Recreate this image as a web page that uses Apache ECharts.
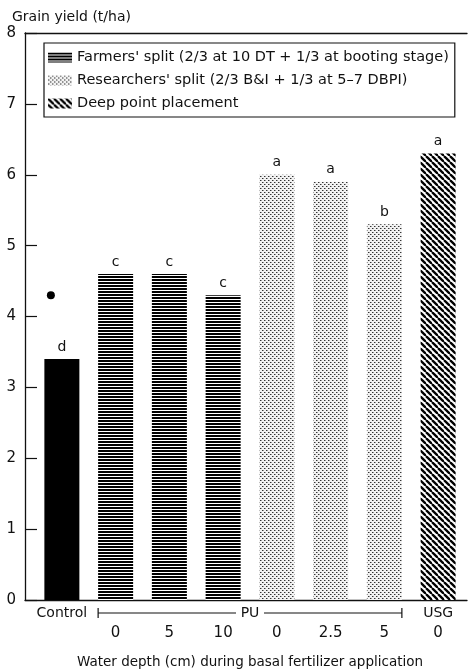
<!DOCTYPE html>
<html><head><meta charset="utf-8">
<script src="https://cdn.jsdelivr.net/npm/echarts@6/dist/echarts.min.js"></script>
<style>html,body{margin:0;padding:0;background:#fff}#c{width:470px;height:670px}</style>
</head><body><div id="c"></div>
<script>
// ---- data ----
const categories = ['Control', '0', '5', '10', '0', '2.5', '5', '0'];
const groupLabels = ['Control', 'PU', 'PU', 'PU', 'PU', 'PU', 'PU', 'USG'];
const controlYield = [3.4, '-', '-', '-', '-', '-', '-', '-'];
const farmersYield = ['-', 4.6, 4.6, 4.3, '-', '-', '-', '-'];
const researchersYield = ['-', '-', '-', '-', 6.0, 5.9, 5.3, '-'];
const deepYield = ['-', '-', '-', '-', '-', '-', '-', 6.3];
const letters = ['d', 'c', 'c', 'c', 'a', 'a', 'b', 'a'];
const controlDot = [[0, 4.3]];
const seriesNames = [
  "Farmers' split (2/3 at 10 DT + 1/3 at booting stage)",
  "Researchers' split (2/3 B&I + 1/3 at 5\u20137 DBPI)",
  "Deep point placement"
];
const yMin = 0, yMax = 8, yStep = 1;

// ---- patterns ----
function tile(w, h, draw) {
  const c = document.createElement('canvas'); c.width = w; c.height = h;
  const g = c.getContext('2d'); g.fillStyle = '#fff'; g.fillRect(0, 0, w, h); draw(g); return c;
}
const hLines = tile(4, 3, g => { g.fillStyle = '#000'; g.fillRect(0, 0, 4, 2); });
const dots = tile(4, 4, g => {
  g.fillStyle = '#f2f2f2'; g.fillRect(0, 0, 4, 4);
  g.fillStyle = '#333'; g.fillRect(0, 0, 1, 1); g.fillRect(2, 2, 1, 1);
  g.fillStyle = '#999'; g.fillRect(1, 0, 1, 1); g.fillRect(3, 2, 1, 1);
});
const diag = tile(6, 6, g => {
  g.strokeStyle = '#000'; g.lineWidth = 2.3;
  for (let k = -1; k <= 1; k++) { g.beginPath(); g.moveTo(k * 6, 0); g.lineTo(k * 6 + 6, 6); g.stroke(); }
});

const font = 'DejaVu Sans';
const chart = echarts.init(document.getElementById('c'), null, { renderer: 'canvas' });
const label = {
  show: true, position: 'top', distance: 5, color: '#111', fontFamily: font, fontSize: 14,
  formatter: p => letters[p.dataIndex]
};
const barCommon = { type: 'bar', barWidth: 35, barGap: '-100%', xAxisIndex: 0, yAxisIndex: 0, label: label };

chart.setOption({
  animation: false,
  textStyle: { fontFamily: font, color: '#111' },
  title: { text: 'Grain yield (t/ha)', left: 7, top: 5, textStyle: { fontFamily: font, fontSize: 14, fontWeight: 'normal', color: '#111' } },
  legend: {
    data: seriesNames, orient: 'vertical', left: 44, top: 43,
    itemWidth: 24, itemHeight: 10, itemGap: 6, padding: [6, 6, 5, 4],
    borderColor: '#111', borderWidth: 1.2, backgroundColor: '#fff',
    textStyle: { fontFamily: font, fontSize: 14.5, lineHeight: 17, color: '#111' }, icon: 'rect'
  },
  grid: [
    { left: 35, right: 5, top: 33, bottom: 70, outerBoundsMode: 'none', containLabel: false },
    { left: 25, right: 3, top: 33, bottom: 70, outerBoundsMode: 'none', containLabel: false }
  ],
  xAxis: [
    {
      type: 'category', gridIndex: 0, data: categories,
      axisLine: { show: false }, axisTick: { show: false },
      axisLabel: {
        interval: 0, margin: 3, color: '#111',
        formatter: (v, i) => {
          const top = (groupLabels[i] === 'PU') ? ' ' : groupLabels[i];
          const bottom = i === 0 ? ' ' : v;
          return '{g|' + top + '}\n{d|' + bottom + '}';
        },
        rich: { g: { fontSize: 14, lineHeight: 20, fontFamily: font, color: '#111' }, d: { fontSize: 15, lineHeight: 20, fontFamily: font, color: '#111' } }
      },
      name: 'Water depth (cm) during basal fertilizer application', nameLocation: 'middle', nameGap: 55,
      nameTextStyle: { fontSize: 13.5, fontFamily: font, color: '#111' }
    },
    { type: 'value', gridIndex: 1, position: 'bottom', min: 0, max: 1, axisLine: { show: true, lineStyle: { color: '#111', width: 1.3 } }, axisTick: { show: false }, axisLabel: { show: false }, splitLine: { show: false } },
    { type: 'value', gridIndex: 1, position: 'top', min: 0, max: 1, axisLine: { show: true, lineStyle: { color: '#111', width: 1.3 } }, axisTick: { show: false }, axisLabel: { show: false }, splitLine: { show: false } }
  ],
  yAxis: [
    {
      type: 'value', gridIndex: 0, min: yMin, max: yMax, interval: yStep, offset: 10,
      axisLine: { show: true, lineStyle: { color: '#111', width: 1.3 } },
      axisTick: { show: true, inside: true, length: 12, lineStyle: { color: '#111', width: 1.2 } },
      axisLabel: { margin: 9, fontSize: 15, color: '#111', fontFamily: font },
      splitLine: { show: false }
    },
    { type: 'value', gridIndex: 1, show: false, min: 0, max: 1 }
  ],
  series: [
    Object.assign({ name: 'Control', data: controlYield, itemStyle: { color: '#000' } }, barCommon),
    Object.assign({ name: seriesNames[0], data: farmersYield, itemStyle: { color: { image: hLines, repeat: 'repeat' } } }, barCommon),
    Object.assign({ name: seriesNames[1], data: researchersYield, itemStyle: { color: { image: dots, repeat: 'repeat' } } }, barCommon),
    Object.assign({ name: seriesNames[2], data: deepYield, itemStyle: { color: { image: diag, repeat: 'repeat' } } }, barCommon),
    { name: 'dot', type: 'scatter', xAxisIndex: 0, yAxisIndex: 0, data: controlDot, symbolSize: 8, symbolOffset: [-11, 0], itemStyle: { color: '#000', opacity: 1 } }
  ]
});

// PU bracket from the axis scale
const idx = groupLabels.map((g, i) => g === 'PU' ? i : -1).filter(i => i >= 0);
const first = chart.convertToPixel({ xAxisIndex: 0, yAxisIndex: 0 }, [idx[0], 0]);
const last = chart.convertToPixel({ xAxisIndex: 0, yAxisIndex: 0 }, [idx[idx.length - 1], 0]);
const half = 17.5;
const x1 = first[0] - half, x2 = last[0] + half;
const xm = (first[0] + last[0]) / 2;
const yb = first[1] + 13;
const ls = { stroke: '#111', lineWidth: 1.2 };
chart.setOption({
  graphic: [
    { type: 'line', shape: { x1: x1, y1: yb, x2: xm - 14, y2: yb }, style: ls, silent: true },
    { type: 'line', shape: { x1: xm + 14, y1: yb, x2: x2, y2: yb }, style: ls, silent: true },
    { type: 'line', shape: { x1: x1, y1: yb - 5, x2: x1, y2: yb + 5 }, style: ls, silent: true },
    { type: 'line', shape: { x1: x2, y1: yb - 5, x2: x2, y2: yb + 5 }, style: ls, silent: true },
    { type: 'text', x: xm, y: yb, style: { text: 'PU', fontSize: 14, fontFamily: font, fill: '#111', align: 'center', verticalAlign: 'middle' }, silent: true }
  ]
});
</script></body></html>
